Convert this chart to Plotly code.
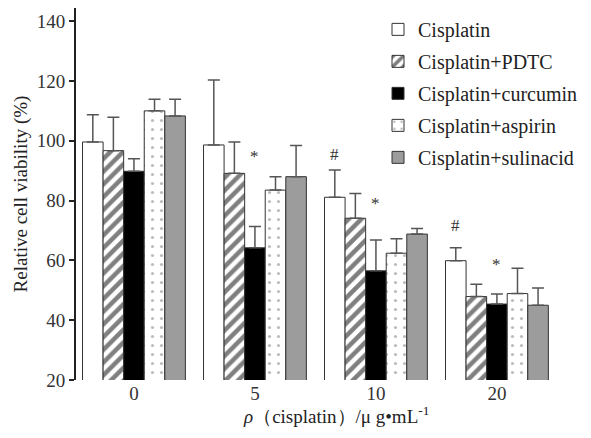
import plotly.graph_objects as go

categories = ["0", "5", "10", "20"]
series_names = ["Cisplatin", "Cisplatin+PDTC", "Cisplatin+curcumin",
                "Cisplatin+aspirin", "Cisplatin+sulinacid"]
cisplatin = [99.6, 98.6, 81.1, 59.9]
cisplatin_err = [9.1, 21.7, 9.1, 4.3]
pdtc = [96.7, 89.1, 74.1, 47.9]
pdtc_err = [11.2, 10.5, 8.3, 4.1]
curcumin = [89.8, 64.2, 56.5, 45.4]
curcumin_err = [4.2, 7.1, 10.3, 3.4]
aspirin = [110.0, 83.5, 62.4, 48.9]
aspirin_err = [3.9, 4.5, 4.8, 8.5]
sulinacid = [108.3, 88.0, 68.8, 45.0]
sulinacid_err = [5.6, 10.4, 1.9, 5.8]

hash_marks = [("10", 95.3), ("20", 71.8)]
star_marks = [("5", 94.9), ("10", 78.9), ("20", 58.7)]

x_title = "<i>ρ</i>（cisplatin）/μ g•mL<sup>-1</sup>"
y_title = "Relative cell viability (%)"

values = [cisplatin, pdtc, curcumin, aspirin, sulinacid]
errors = [cisplatin_err, pdtc_err, curcumin_err, aspirin_err, sulinacid_err]

SERIF = "Liberation Serif, Times New Roman, DejaVu Serif, serif"

styles = [
    dict(color="white"),
    dict(color="white", pattern=dict(shape="/", fgcolor="black", bgcolor="white", size=9, solidity=0.5)),
    dict(color="black"),
    dict(color="white", pattern=dict(shape=".", fgcolor="#7a7a7a", bgcolor="white", size=9, solidity=0.1)),
    dict(color="#9c9c9c"),
]

xpos = list(range(len(categories)))
bargap = 0.15
bw = (1 - bargap) / 5

fig = go.Figure()
for i, (name, v, e, st) in enumerate(zip(series_names, values, errors, styles)):
    marker = dict(line=dict(color="#333333", width=1), **st)
    fig.add_trace(go.Bar(
        x=xpos, y=v, name=name, marker=marker, legendgroup=name,
        error_y=dict(type="data", array=e, arrayminus=[0] * len(e), symmetric=False,
                     color="#555555", thickness=1.5, width=6),
    ))

def idx(c):
    return categories.index(c)

annotations = []
for c, y in hash_marks:
    annotations.append(dict(x=idx(c) - 2 * bw, y=y, xref="x", yref="y", text="#",
                            showarrow=False, font=dict(family=SERIF, size=17, color="#333")))
for c, y in star_marks:
    annotations.append(dict(x=idx(c), y=y, xref="x", yref="y", text="*",
                            showarrow=False, font=dict(family=SERIF, size=17, color="#333")))
annotations.append(dict(x=0.542, y=-0.132, xref="paper", yref="paper", text=x_title,
                        showarrow=False, xanchor="center", yanchor="bottom",
                        font=dict(family=SERIF, size=19, color="#222")))

# page body has an 8px margin; figure sized/placed to compensate
fig.update_layout(
    width=575, height=422,
    margin=dict(l=68, r=27, t=0, b=50),
    paper_bgcolor="white", plot_bgcolor="white",
    barmode="group", bargap=bargap, bargroupgap=0,
    font=dict(family=SERIF, size=17, color="#222"),
    showlegend=True,
    legend=dict(x=0.631, y=0.995, xanchor="left", yanchor="top",
                font=dict(family=SERIF, size=20, color="#222"),
                bgcolor="rgba(255,255,255,0)", traceorder="grouped",
                tracegroupgap=3, itemwidth=30),
    annotations=annotations,
)
fig.update_xaxes(
    tickvals=xpos, ticktext=categories, range=[-0.479, 3.48],
    showline=False, showgrid=False, zeroline=False, ticks="",
    tickfont=dict(family=SERIF, size=19, color="#333"),
)
fig.update_yaxes(
    range=[20, 144.4], tickvals=[20, 40, 60, 80, 100, 120, 140],
    showline=True, linecolor="#222", linewidth=2, showgrid=False, zeroline=False,
    ticks="outside", ticklen=5, tickcolor="#222", tickwidth=1.5,
    tickfont=dict(family=SERIF, size=19, color="#333"),
    title=dict(text=y_title, font=dict(family=SERIF, size=19, color="#222"), standoff=4),
)

fig.write_html("out.html")
